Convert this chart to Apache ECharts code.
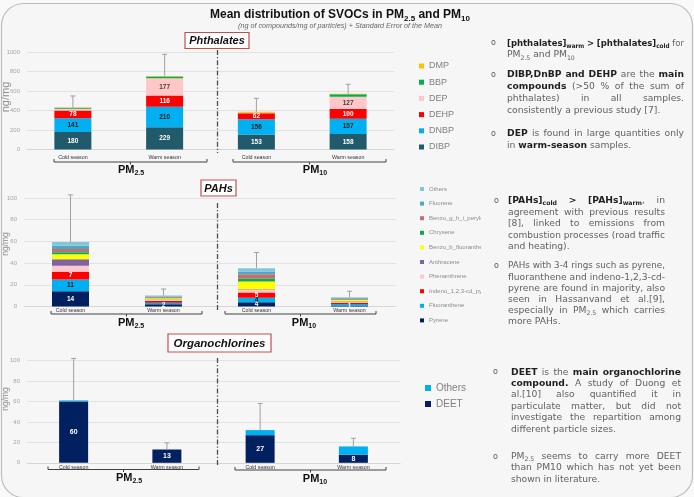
<!DOCTYPE html>
<html>
<head>
<meta charset="utf-8">
<script src="https://cdn.jsdelivr.net/npm/echarts@6/dist/echarts.min.js"></script>
<style>
  html, body { margin: 0; padding: 0; background: #f9f9f9; }
  #c { width: 694px; height: 497px; }
</style>
</head>
<body>
<div id="c"></div>
<script>
// ---------- data (ng of compound / mg of particles) ----------
const categories = ['Cold season', 'Warm season', 'Cold season', 'Warm season'];

// Phthalates
const phthNames = ['DIBP', 'DNBP', 'DEHP', 'DEP', 'BBP', 'DMP'];
const DIBP = [180, 229, 153, 158];
const DNBP = [141, 210, 156, 157];
const DEHP = [78, 116, 62, 100];
const DEP  = [20, 177, 5, 127];
const BBP  = [8, 18, 2, 24];
const DMP  = [3, 3, 8, 5];
const phthSem = [119, 223, 139, 98];

// PAHs
const pahNames = ['Pyrene', 'Fluoranthene', 'Indeno_1,2,3-cd_pyrene', 'Phenanthrene', 'Anthracene',
                  'Benzo_b_fluoranthene', 'Chrysene', 'Benzo_g_h_i_perylene', 'Fluorene', 'Others'];
const Pyrene       = [14, 2, 4, 1];
const Fluoranthene = [11, 1.5, 4, 1.2];
const Indeno       = [7, 1.5, 5, 1.2];
const Phenanthrene = [5.5, 1, 2.5, 1];
const Anthracene   = [6, 0.5, 0.5, 0.5];
const BenzoB       = [4.6, 1, 7, 1];
const Chrysene     = [2, 0.5, 2.5, 0.5];
const BenzoGHI     = [2.8, 1, 4.3, 1];
const Fluorene     = [3, 0.5, 2.5, 0.6];
const PahOthers    = [3.5, 0.6, 3, 0.6];
const pahSem = [43.5, 6, 14.5, 5.5];

// Organochlorines
const ocNames = ['DEET', 'Others'];
const DEET     = [60, 13, 27, 8];
const OcOthers = [1, 0, 5, 8];
const ocSem = [41, 6.5, 26, 8];

// axis ticks
const phthAxis = { max: 1000, step: 200 };
const pctAxis = { max: 100, step: 20 };

// ---------- styling ----------
const FONT = 'Liberation Sans';
const phthColors = ['#215a6b', '#00b0f0', '#ff0000', '#ffc7c7', '#00b050', '#ffc000'];
const pahColors = ['#002060', '#00b0f0', '#ff0000', '#ffc7ce', '#8064a2',
                   '#ffff00', '#00b050', '#c0716f', '#4fa8c4', '#80c7da'];
const ocColors = ['#002060', '#00b0f0'];

const sum = arrs => arrs[0].map((_, i) => arrs.reduce((a, s) => a + s[i], 0));

function stackSeries(names, values, colors, gi, barWidth, labels) {
  return names.map((n, k) => {
    const lab = labels[k];
    return {
      name: n, type: 'bar', stack: 'g' + gi, xAxisIndex: gi, yAxisIndex: gi,
      barWidth: barWidth, itemStyle: { color: colors[k] },
      label: lab ? {
        show: true, position: 'inside', fontSize: lab.size || 6.5, fontWeight: 'bold',
        fontFamily: FONT, color: lab.color,
        formatter: p => (p.value >= lab.min ? String(p.value) : '')
      } : { show: false },
      data: values[k]
    };
  });
}

function errorSeries(gi, tops, sem) {
  return {
    type: 'custom', xAxisIndex: gi, yAxisIndex: gi, silent: true, z: 3,
    data: tops.map((t, i) => [i, t, t + sem[i]]),
    renderItem(params, api) {
      const p0 = api.coord([api.value(0), api.value(1)]);
      const p1 = api.coord([api.value(0), api.value(2)]);
      const st = { stroke: '#a0a0a0', lineWidth: 1 };
      return {
        type: 'group', children: [
          { type: 'line', shape: { x1: p0[0], y1: p0[1], x2: p1[0], y2: p1[1] }, style: st },
          { type: 'line', shape: { x1: p1[0] - 2.5, y1: p1[1], x2: p1[0] + 2.5, y2: p1[1] }, style: st }
        ]
      };
    }
  };
}

function xAxisCfg(gi, margin) {
  return {
    type: 'category', gridIndex: gi, data: categories,
    axisLine: { show: true, lineStyle: { color: '#d6d6d6' } },
    axisTick: { show: false },
    axisLabel: { fontSize: 5.3, color: '#333', fontFamily: FONT, margin: margin }
  };
}
function yAxisCfg(gi, ax) {
  return {
    type: 'value', gridIndex: gi, min: 0, max: ax.max, interval: ax.step,
    axisLine: { show: false }, axisTick: { show: false },
    axisLabel: { fontSize: 6, color: '#a6a6a6', fontFamily: FONT, margin: 7, formatter: v => String(v) },
    splitLine: { lineStyle: { color: '#e2e2e2', width: 1 } }
  };
}
function legendCfg(names, colors, left, top, fs, lh, gap, icon, color) {
  return {
    orient: 'vertical', left: left, top: top, selectedMode: false,
    icon: 'rect', itemWidth: icon, itemHeight: icon, itemGap: gap,
    textStyle: { fontSize: fs, lineHeight: lh, color: color, fontFamily: FONT },
    data: names.map((n, i) => ({ name: n, itemStyle: { color: colors[i] } }))
  };
}

// ---------- series ----------
const phthValues = [DIBP, DNBP, DEHP, DEP, BBP, DMP];
const pahValues = [Pyrene, Fluoranthene, Indeno, Phenanthrene, Anthracene, BenzoB, Chrysene, BenzoGHI, Fluorene, PahOthers];
const ocValues = [DEET, OcOthers];

const series = [].concat(
  stackSeries(phthNames, phthValues, phthColors, 0, 37, [
    { min: 50, color: '#fff' }, { min: 50, color: '#1a1a1a' }, { min: 50, color: '#fff' }, { min: 50, color: '#404040' }
  ]),
  [errorSeries(0, sum(phthValues), phthSem)],
  stackSeries(pahNames, pahValues, pahColors, 1, 37, [
    { min: 0, color: '#fff' }, { min: 3, color: '#1a1a1a' }, { min: 3, color: '#fff' }
  ]),
  [errorSeries(1, sum(pahValues), pahSem)],
  stackSeries(ocNames, ocValues, ocColors, 2, 29, [{ min: 0, color: '#fff', size: 7 }]),
  [errorSeries(2, sum(ocValues), ocSem)]
);

// ---------- decorations & notes ----------
const graphic = [];
graphic.push({ type: 'rect', z: -10, silent: true,
  shape: { x: 1.5, y: 3.5, width: 691, height: 494, r: 22 },
  style: { fill: '#f6f6f6', stroke: '#bdbdbd', lineWidth: 1.2 } });

// main title and subtitle
graphic.push({ type: 'text', x: 340, y: 15, z: 20, style: {
  text: '{t|Mean distribution of SVOCs in PM}{s|2.5}{t| and PM}{s|10}',
  align: 'center', verticalAlign: 'middle',
  rich: { t: { fontSize: 12, fontWeight: 'bold', fontFamily: FONT, fill: '#111', lineHeight: 15 },
          s: { fontSize: 8, fontWeight: 'bold', fontFamily: FONT, fill: '#111', lineHeight: 8, verticalAlign: 'bottom' } } } });
graphic.push({ type: 'text', x: 340, y: 25.5, z: 20, style: {
  text: '(ng of compounds/mg of particles) + Standard Error of the Mean',
  align: 'center', verticalAlign: 'middle', fontSize: 7.2, fontStyle: 'italic', fontFamily: FONT, fill: '#666' } });

// section title boxes
function titleBox(label, x, y, w, h, fs) {
  graphic.push({ type: 'rect', z: 20, shape: { x: x, y: y, width: w, height: h },
    style: { fill: '#ffffff', stroke: '#c0504d', lineWidth: 1.2 } });
  graphic.push({ type: 'text', x: x + w / 2, y: y + h / 2 + 0.5, z: 21, style: {
    text: label, align: 'center', verticalAlign: 'middle', fontSize: fs,
    fontWeight: 'bold', fontStyle: 'italic', fontFamily: FONT, fill: '#111' } });
}
titleBox('Phthalates', 185, 32.5, 64, 16, 11);
titleBox('PAHs', 201, 180, 35, 16, 11);
titleBox('Organochlorines', 168, 334, 103, 18, 11.5);

// y-axis titles
[[97, 11], [244, 8.5], [399, 8.5]].forEach(([y, fs]) => graphic.push({
  type: 'text', x: 6, y: y, rotation: Math.PI / 2, z: 20,
  style: { text: 'ng/mg', align: 'center', verticalAlign: 'middle', fontSize: fs, fontFamily: FONT, fill: '#8c8c8c' } }));

// dash-dot separators between the PM2.5 and PM10 groups
[[50, 153], [203, 312], [358, 466]].forEach(([y1, y2]) => graphic.push({
  type: 'line', z: 20, shape: { x1: 217.5, y1: y1, x2: 217.5, y2: y2 },
  style: { stroke: '#4d4d4d', lineWidth: 1.3, lineDash: [5, 2, 1.2, 2] } }));

// group brackets and group labels
function groupLabel(sub, x, y) {
  graphic.push({ type: 'text', x: x, y: y, z: 20, style: {
    text: '{a|PM}{s|' + sub + '}', align: 'center', verticalAlign: 'middle',
    rich: { a: { fontSize: 11, fontWeight: 'bold', fontFamily: FONT, fill: '#111', lineHeight: 14 },
            s: { fontSize: 7, fontWeight: 'bold', fontFamily: FONT, fill: '#111', lineHeight: 6, verticalAlign: 'bottom' } } } });
}
function bracket(x1, x2, y) {
  graphic.push({ type: 'polyline', z: 20, shape: { points: [[x1, y - 3], [x1, y], [x2, y], [x2, y - 3]] },
    style: { stroke: '#404040', lineWidth: 1, fill: null } });
  const xm = (x1 + x2) / 2;
  graphic.push({ type: 'line', z: 20, shape: { x1: xm, y1: y, x2: xm, y2: y + 2.5 },
    style: { stroke: '#404040', lineWidth: 1 } });
}
bracket(54, 207, 162); bracket(233, 386, 162);
groupLabel('2.5', 131, 170); groupLabel('10', 315, 170);
bracket(51, 202, 314); bracket(225, 376, 314);
groupLabel('2.5', 131, 323); groupLabel('10', 304, 323);
bracket(48, 199, 469.5); bracket(235, 386, 470);
groupLabel('2.5', 129, 478); groupLabel('10', 315, 479);

// cover so long legend names stop at the notes column
graphic.push({ type: 'rect', z: 50, silent: true, shape: { x: 481, y: 176, width: 205, height: 156 },
  style: { fill: '#f6f6f6' } });

// notes column: justified lines; '*' toggles bold, '_' toggles subscript
const NOTE_FONT = 'DejaVu Sans';
const NFS = 9.2, NSUB = 6.2;
const richNote = {
  n:  { fontFamily: NOTE_FONT, fontSize: NFS, fill: '#616161', lineHeight: 12 },
  b:  { fontFamily: NOTE_FONT, fontSize: NFS, fontWeight: 'bold', fill: '#1f1f1f', lineHeight: 12 },
  ns: { fontFamily: NOTE_FONT, fontSize: NSUB, fill: '#616161', lineHeight: 6, verticalAlign: 'bottom' },
  bs: { fontFamily: NOTE_FONT, fontSize: NSUB, fontWeight: 'bold', fill: '#1f1f1f', lineHeight: 6, verticalAlign: 'bottom' }
};
const mctx = document.createElement('canvas').getContext('2d');
function measure(st, txt) {
  const s = richNote[st];
  mctx.font = (s.fontWeight === 'bold' ? 'bold ' : '') + s.fontSize + 'px "' + NOTE_FONT + '"';
  return mctx.measureText(txt).width;
}
function parseLine(src) {
  let bold = false, sub = false, buf = '', cur = [];
  const words = [];
  const flush = () => { if (buf) { cur.push([(bold ? 'b' : 'n') + (sub ? 's' : ''), buf]); buf = ''; } };
  for (const ch of src) {
    if (ch === '*') { flush(); bold = !bold; }
    else if (ch === '_') { flush(); sub = !sub; }
    else if (ch === ' ') { flush(); if (cur.length) { words.push(cur); cur = []; } }
    else buf += ch;
  }
  flush(); if (cur.length) words.push(cur);
  return words.map(segs => ({ segs, width: segs.reduce((a, [st, t]) => a + measure(st, t), 0) }));
}
function noteLine(src, x0, y, width, justify) {
  const words = parseLine(src);
  const sp = measure('n', ' ');
  const total = words.reduce((a, w) => a + w.width, 0);
  const natural = total + sp * (words.length - 1);
  let scale = 1, gap = sp;
  if (natural > width) scale = width / natural;
  else if (justify && words.length > 1) gap = (width - total) / (words.length - 1);
  let x = x0;
  words.forEach(w => {
    graphic.push({ type: 'text', x: x, y: y, scaleX: scale, z: 60, style: {
      text: w.segs.map(([st, t]) => '{' + st + '|' + t + '}').join(''),
      rich: richNote, align: 'left', verticalAlign: 'middle' } });
    x += (w.width + gap) * scale;
  });
}
function paragraph(lines, bx, x0, x1, y0, step) {
  graphic.push({ type: 'text', x: bx, y: y0, z: 60, style: {
    text: 'o', fontSize: 8, fontFamily: NOTE_FONT, fill: '#595959', align: 'left', verticalAlign: 'middle' } });
  lines.forEach((l, i) => noteLine(l, x0, y0 + i * step, x1 - x0, i < lines.length - 1));
}

paragraph(['*[phthalates]_warm_* *>* *[phthalates]_cold_* for', 'PM_2.5_ and PM_10_'], 491, 507, 684, 43.3, 11.7);
paragraph(['*DIBP,DnBP and DEHP* are the *main*', '*compounds* (>50 % of the sum of',
           'phthalates) in all samples.', 'consistently a previous study [7].'], 491, 507, 684, 75, 11.8);
paragraph(['*DEP* is found in large quantities only', 'in *warm-season* samples.'], 491, 507, 684, 134, 11.7);

paragraph(['*[PAHs]_cold_* *>* *[PAHs]_warm_*, in', 'agreement with previous results',
           '[8], linked to emissions from', 'combustion processes (road traffic', 'and heating).'],
          494, 508, 665, 200.7, 11.5);
paragraph(['PAHs with 3-4 rings such as pyrene,', 'fluoranthene and indeno-1,2,3-cd-',
           'pyrene are found in majority, also', 'seen in Hassanvand et al.[9],',
           'especially in PM_2.5_ which carries', 'more PAHs.'], 494, 508, 665, 266, 11.15);

paragraph(['*DEET* is the *main organochlorine*', '*compound.* A study of Duong et',
           'al.[10] also quantified it in', 'particulate matter, but did not',
           'investigate the repartition among', 'different particle sizes.'], 493, 511, 681, 372.3, 11.4);
paragraph(['PM_2.5_ seems to carry more DEET', 'than PM10 which has not yet been', 'shown in literature.'],
          493, 511, 681, 456.7, 11.3);

// ---------- chart ----------
const chart = echarts.init(document.getElementById('c'));
chart.setOption({
  animation: false,
  textStyle: { fontFamily: FONT },
  grid: [
    { left: 27, top: 52, width: 367, height: 97.5, outerBoundsMode: 'none' },
    { left: 24, top: 198, width: 372, height: 108.5, outerBoundsMode: 'none' },
    { left: 27, top: 360.5, width: 373, height: 102.3, outerBoundsMode: 'none' }
  ],
  xAxis: [xAxisCfg(0, 5.5), xAxisCfg(1, 2), xAxisCfg(2, 1.8)],
  yAxis: [yAxisCfg(0, phthAxis), yAxisCfg(1, pctAxis), yAxisCfg(2, pctAxis)],
  legend: [
    legendCfg(phthNames.slice().reverse(), phthColors.slice().reverse(), 414, 55.5, 9, 11, 5.2, 5, '#808080'),
    legendCfg(pahNames.slice().reverse(), pahColors.slice().reverse(), 415, 180.5, 6, 7, 7.6, 4, '#8c8c8c'),
    legendCfg(ocNames.slice().reverse(), ocColors.slice().reverse(), 420, 377, 10, 12, 4, 6, '#808080')
  ],
  series: series,
  graphic: graphic
});
</script>
</body>
</html>
